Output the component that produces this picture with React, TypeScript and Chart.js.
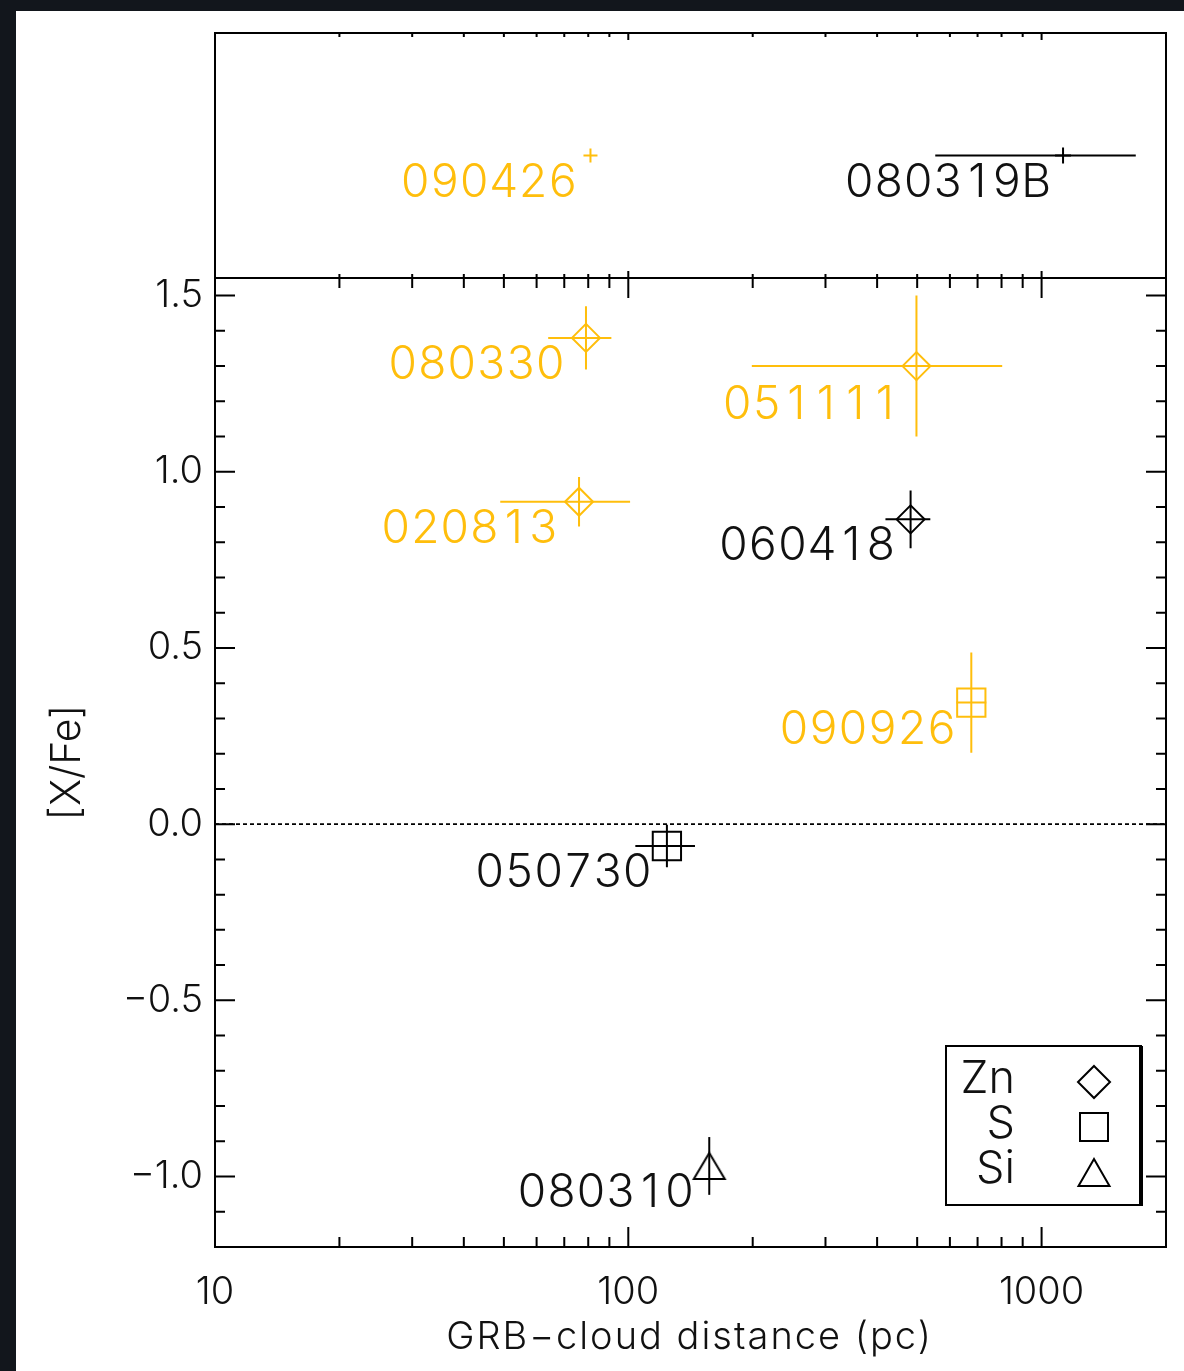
import React, { useEffect, useRef } from 'react';
import { Chart, registerables } from 'chart.js';

Chart.register(...registerables);

// ---------------- data ----------------
// main panel: GRBs with a measured [X/Fe]
const grbNames = ['080330', '020813', '051111', '060418', '090926', '050730', '080310'];
const distance = [79, 76, 498, 482, 676, 124, 157];
const distanceLow = [64, 49, 199, 419, 622, 104, 157];
const distanceHigh = [91, 101, 803, 538, 735, 145, 157];
const xFe = [1.38, 0.915, 1.3, 0.865, 0.345, -0.062, -0.97];
const xFeErr = [0.09, 0.07, 0.2, 0.082, 0.142, 0.06, 0.082];
const element = ['Zn', 'Zn', 'Zn', 'Zn', 'S', 'S', 'Si'];
const highlighted = [true, true, true, false, true, false, false];

// top panel: GRBs without [X/Fe]
const topNames = ['090426', '080319B'];
const topDistance = [81, 1127];
const topDistanceLow = [81, 553];
const topDistanceHigh = [81, 1690];
const topRow = [0.5, 0.5];
const topHighlighted = [true, false];

const legendElements = ['Zn', 'S', 'Si'];
const xMajorTicks = [10, 100, 1000];
const xMin = 10;
const xMax = 2000;
const yMin = -1.2;
const yMax = 1.55;
const xTitle = 'GRB\u2212cloud distance (pc)';
const yTitle = '[X/Fe]';

// ---------------- styles ----------------
const ORANGE = '#FFBE0C';
const BLACK = '#000000';
const TEXT = '#111111';
const FONT = "Inter, 'DejaVu Sans', sans-serif";
const WEIGHT = '300';
const LABEL_CELL = 29.5;

function triangleImage(color: string) {
  // IDL-like triangle: centred on the middle of its height
  const c = document.createElement('canvas');
  c.width = 40;
  c.height = 40;
  const g = c.getContext('2d')!;
  g.strokeStyle = color;
  g.lineWidth = 2;
  g.beginPath();
  g.moveTo(20, 7);
  g.lineTo(35.5, 33);
  g.lineTo(4.5, 33);
  g.closePath();
  g.stroke();
  return c;
}

const markerStyle: Record<string, { style: any; radius: number }> = {
  Zn: { style: 'rectRot', radius: 14 },
  S: { style: 'rect', radius: 20 },
  Si: { style: 'triangle', radius: 18 },
};
const LABEL_DX = -15;
const LABEL_DY = 41;
const LABEL_SHIFT: Record<string, [number, number]> = {
  '080330': [-6, 0],
  '020813': [-6, 0],
  '051111': [-2, 12],
  '090426': [2, 0],
  '080319B': [3, 0],
};

const isPow10 = (v: number) => Math.abs(Math.log10(v) - Math.round(Math.log10(v))) < 1e-9;

const mainPoints = grbNames.map((n, i) => ({
  x: distance[i],
  y: xFe[i],
  name: n,
  lo: distanceLow[i],
  hi: distanceHigh[i],
  err: xFeErr[i],
  color: highlighted[i] ? ORANGE : BLACK,
}));
const topPoints = topNames.map((n, i) => ({
  x: topDistance[i],
  y: topRow[i],
  name: n,
  lo: topDistanceLow[i],
  hi: topDistanceHigh[i],
  err: 0,
  color: topHighlighted[i] ? ORANGE : BLACK,
}));

const errorBars = {
  id: 'errorBars',
  beforeDatasetsDraw(chart: any) {
    const { ctx, chartArea: ca } = chart;
    const ys = chart.scales.y;
    ctx.save();
    ctx.strokeStyle = BLACK;
    ctx.lineWidth = 1.6;
    ctx.setLineDash([4, 3]);
    ctx.beginPath();
    const z = ys.getPixelForValue(0);
    ctx.moveTo(ca.left, z);
    ctx.lineTo(ca.right, z);
    ctx.stroke();
    ctx.restore();
  },
  afterDatasetsDraw(chart: any) {
    const ctx = chart.ctx;
    const xs = chart.scales.x;
    chart.data.datasets.forEach((ds: any) => {
      const ys = chart.scales[ds.yAxisID];
      ds.data.forEach((p: any) => {
        const px = xs.getPixelForValue(p.x);
        const py = ys.getPixelForValue(p.y);
        ctx.save();
        ctx.strokeStyle = p.color;
        ctx.lineWidth = 2;
        ctx.beginPath();
        if (p.hi > p.lo) {
          ctx.moveTo(xs.getPixelForValue(p.lo), py);
          ctx.lineTo(xs.getPixelForValue(p.hi), py);
        }
        if (p.err > 0) {
          ctx.moveTo(px, ys.getPixelForValue(p.y + p.err));
          ctx.lineTo(px, ys.getPixelForValue(p.y - p.err));
        }
        ctx.stroke();
        ctx.restore();
      });
    });
  },
};

function drawCells(ctx: CanvasRenderingContext2D, text: string, right: number, baseline: number) {
  // fixed-pitch drawing (IDL vector font look)
  const n = text.length;
  ctx.textAlign = 'center';
  for (let k = 0; k < n; k++) {
    const cx = right - (n - k - 0.5) * LABEL_CELL;
    ctx.fillText(text[k], cx, baseline);
  }
}

const frameTicksLabels = {
  id: 'frameTicksLabels',
  afterDraw(chart: any) {
    const { ctx, chartArea: ca } = chart;
    const xs = chart.scales.x;
    const ys = chart.scales.y;
    const yt = chart.scales.yTop;
    ctx.save();
    ctx.strokeStyle = BLACK;
    ctx.lineWidth = 2;
    ctx.strokeRect(ca.left, yt.top, ca.right - ca.left, yt.bottom - yt.top);
    ctx.strokeRect(ca.left, ys.top, ca.right - ca.left, ys.bottom - ys.top);
    ctx.beginPath();
    for (const t of xs.ticks) {
      const px = xs.getPixelForValue(t.value);
      if (px <= ca.left + 1 || px >= ca.right - 1) continue;
      const major = isPow10(t.value);
      const L = major ? 20 : 10;
      const Ls = major ? 7 : 4;
      ctx.moveTo(px, ys.bottom);
      ctx.lineTo(px, ys.bottom - L);
      ctx.moveTo(px, ys.top);
      ctx.lineTo(px, ys.top + L);
      ctx.moveTo(px, yt.bottom);
      ctx.lineTo(px, yt.bottom - Ls);
      ctx.moveTo(px, yt.top);
      ctx.lineTo(px, yt.top + Ls);
    }
    for (const t of ys.ticks) {
      const py = ys.getPixelForValue(t.value);
      if (py <= ys.top + 1 || py >= ys.bottom - 1) continue;
      const major = Math.abs(t.value / 0.5 - Math.round(t.value / 0.5)) < 1e-6;
      const L = major ? 20 : 10;
      ctx.moveTo(ca.left, py);
      ctx.lineTo(ca.left + L, py);
      ctx.moveTo(ca.right, py);
      ctx.lineTo(ca.right - L, py);
    }
    ctx.stroke();

    // x axis title
    ctx.font = `${WEIGHT} 38px ${FONT}`;
    ctx.fillStyle = TEXT;
    ctx.textAlign = 'center';
    ctx.textBaseline = 'middle';
    (ctx as any).letterSpacing = '2px';
    ctx.fillText(xTitle, (ca.left + ca.right) / 2 - 1, ys.bottom + 91);
    (ctx as any).letterSpacing = '0px';

    // point labels
    ctx.font = `${WEIGHT} 46px ${FONT}`;
    ctx.textBaseline = 'alphabetic';
    chart.data.datasets.forEach((ds: any) => {
      const yscale = chart.scales[ds.yAxisID];
      ds.data.forEach((p: any) => {
        const px = xs.getPixelForValue(p.x);
        const py = yscale.getPixelForValue(p.y);
        const sh = LABEL_SHIFT[p.name] || [0, 0];
        ctx.fillStyle = p.color === BLACK ? TEXT : p.color;
        drawCells(ctx, p.name, px + LABEL_DX + sh[0], py + LABEL_DY + sh[1]);
      });
    });

    // legend box
    const bx = ca.right - 220;
    const by = ys.bottom - 201;
    const bw = 195;
    const bh = 159;
    ctx.lineWidth = 2;
    ctx.strokeRect(bx, by, bw, bh);
    ctx.lineWidth = 4;
    ctx.beginPath();
    ctx.moveTo(bx + bw, by);
    ctx.lineTo(bx + bw, by + bh + 1);
    ctx.stroke();
    ctx.lineWidth = 2;
    ctx.font = `${WEIGHT} 45px ${FONT}`;
    ctx.fillStyle = TEXT;
    ctx.textAlign = 'right';
    ctx.textBaseline = 'alphabetic';
    legendElements.forEach((el, i) => {
      const rowY = by + 47 + i * 45;
      ctx.fillText(el, bx + 69, rowY);
      const cx = bx + 148;
      const cy = by + 36 + i * 45;
      ctx.beginPath();
      if (el === 'Zn') {
        const r = 16;
        ctx.moveTo(cx, cy - r);
        ctx.lineTo(cx + r, cy);
        ctx.lineTo(cx, cy + r);
        ctx.lineTo(cx - r, cy);
        ctx.closePath();
      } else if (el === 'S') {
        const h = 14;
        ctx.rect(cx - h, cy - h, 2 * h, 2 * h);
      } else {
        ctx.moveTo(cx, cy - 13);
        ctx.lineTo(cx + 15.5, cy + 14);
        ctx.lineTo(cx - 15.5, cy + 14);
        ctx.closePath();
      }
      ctx.stroke();
    });
    ctx.restore();
  },
};

export default function App() {
  const ref = useRef<HTMLCanvasElement>(null);
  useEffect(() => {
    const canvas = ref.current;
    if (!canvas) return;
    const tickFont = { family: FONT, size: 38, weight: WEIGHT };
    const styles = element.map((e) =>
      e === 'Si' ? triangleImage(BLACK) : markerStyle[e].style
    );
    const chart = new Chart(canvas, {
      type: 'scatter',
      data: {
        datasets: [
          {
            label: 'main',
            yAxisID: 'y',
            data: mainPoints as any,
            pointStyle: styles as any,
            pointRadius: element.map((e) => markerStyle[e].radius),
            pointBorderColor: mainPoints.map((p) => p.color),
            pointBackgroundColor: 'rgba(0,0,0,0)',
            pointBorderWidth: 2,
            showLine: false,
          },
          {
            label: 'top',
            yAxisID: 'yTop',
            data: topPoints as any,
            pointStyle: 'cross',
            pointRadius: [7, 8],
            pointBorderColor: topPoints.map((p) => p.color),
            pointBackgroundColor: 'rgba(0,0,0,0)',
            pointBorderWidth: 2,
            showLine: false,
          },
        ],
      },
      options: {
        responsive: false,
        animation: false,
        events: [],
        layout: { autoPadding: false, padding: { left: 0, top: 33, right: 18, bottom: 0 } },
        plugins: { legend: { display: false }, tooltip: { enabled: false } },
        scales: {
          x: {
            type: 'logarithmic',
            position: 'bottom',
            min: xMin,
            max: xMax,
            grid: { display: false },
            border: { display: false },
            afterBuildTicks: (scale: any) => {
              const vals: number[] = [];
              for (let d = xMin; d < xMax; d *= 10) {
                for (let m = 1; m <= 9; m++) {
                  const v = d * m;
                  if (v >= xMin && v <= xMax) vals.push(v);
                }
              }
              vals.push(xMax);
              scale.ticks = vals.map((v) => ({ value: v }));
            },
            afterFit: (scale: any) => {
              scale.height = 124;
              scale.paddingLeft = 0;
              scale.paddingRight = 0;
            },
            ticks: {
              autoSkip: false,
              maxRotation: 0,
              padding: 15,
              color: TEXT,
              font: tickFont,
              callback: (v: any) => (xMajorTicks.includes(Number(v)) ? String(v) : ''),
            },
            title: { display: false, text: xTitle },
          },
          y: {
            type: 'linear',
            position: 'left',
            stack: 'panels',
            stackWeight: 969,
            weight: 0,
            min: yMin,
            max: yMax,
            grid: { display: false },
            border: { display: false },
            afterBuildTicks: (scale: any) => {
              const vals: number[] = [];
              for (let k = Math.ceil(yMin * 10); k <= Math.floor(yMax * 10); k++) vals.push(k / 10);
              scale.ticks = vals.map((v) => ({ value: v }));
            },
            afterFit: (scale: any) => {
              scale.width = 215;
              scale.paddingTop = 0;
              scale.paddingBottom = 0;
            },
            ticks: {
              autoSkip: false,
              padding: 4,
              color: TEXT,
              font: tickFont,
              callback: (v: any) => {
                const n = Number(v);
                if (Math.abs(n / 0.5 - Math.round(n / 0.5)) > 1e-6) return '';
                const r = Math.round(n * 10) / 10;
                return (r < 0 ? '\u2212' : '') + Math.abs(r).toFixed(1);
              },
            },
            title: {
              display: true,
              text: yTitle,
              color: TEXT,
              font: { family: FONT, size: 41, weight: WEIGHT },
              padding: { top: 43, bottom: 0 },
            },
          },
          yTop: {
            type: 'linear',
            position: 'left',
            stack: 'panels',
            stackWeight: 245,
            weight: 1,
            min: 0,
            max: 1,
            grid: { display: false },
            border: { display: false },
            ticks: { display: false },
            afterFit: (scale: any) => {
              scale.width = 215;
              scale.paddingTop = 0;
              scale.paddingBottom = 0;
            },
          },
        },
      } as any,
      plugins: [errorBars, frameTicksLabels],
    });
    return () => chart.destroy();
  }, []);

  return (
    <div
      style={{
        position: 'absolute',
        left: 0,
        top: 0,
        width: 1184,
        height: 1371,
        background: '#12161c',
        overflow: 'hidden',
      }}
    >
      <div style={{ position: 'absolute', left: 16, top: 11, right: 0, bottom: 0, background: '#ffffff' }} />
      <canvas
        ref={ref}
        width={1184}
        height={1371}
        style={{ position: 'absolute', left: 0, top: 0, width: 1184, height: 1371 }}
      />
    </div>
  );
}
